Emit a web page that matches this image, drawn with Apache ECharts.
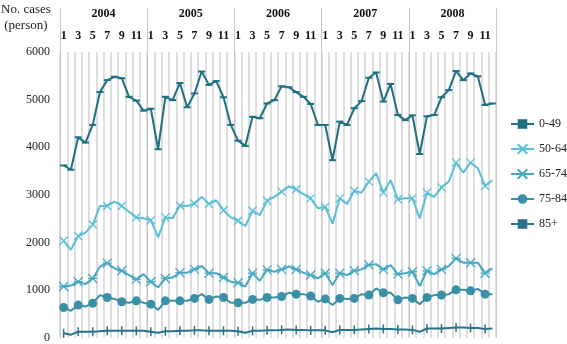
<!DOCTYPE html>
<html>
<head>
<meta charset="utf-8">
<script src="https://cdn.jsdelivr.net/npm/echarts@6/dist/echarts.min.js"></script>
<style>
  html, body { margin: 0; padding: 0; background: #fff; }
  #chart { width: 567px; height: 344px; }
</style>
</head>
<body>
<div id="chart"></div>
<script>
const years = ["2004", "2005", "2006", "2007", "2008"];
const monthLabels = ["1", "2", "3", "4", "5", "6", "7", "8", "9", "10", "11", "12"];
const yTicks = [0, 1000, 2000, 3000, 4000, 5000, 6000];

const age0to49 = [
  3620, 3530, 4210, 4100, 4470, 5160, 5410, 5480, 5450, 5060, 4980, 4770,
  4810, 3960, 5060, 4990, 5350, 4840, 5130, 5590, 5310, 5390, 5050, 4470,
  4140, 4030, 4640, 4610, 4920, 4990, 5280, 5260, 5160, 5060, 4910, 4470,
  4470, 3730, 4540, 4470, 4820, 4970, 5460, 5570, 4960, 5330, 4680, 4570,
  4670, 3860, 4650, 4680, 5050, 5200, 5600, 5410, 5550, 5490, 4890, 4920,
];
const age50to64 = [
  2040, 1850, 2140, 2210, 2380, 2770, 2770, 2860, 2770, 2650, 2530, 2510,
  2470, 2110, 2530, 2510, 2780, 2770, 2820, 2960, 2810, 2890, 2680, 2530,
  2460, 2350, 2670, 2580, 2880, 2960, 3070, 3180, 3120, 3020, 2930, 2720,
  2750, 2400, 2930, 2810, 3090, 3050, 3280, 3460, 3050, 3310, 2910, 2930,
  2930, 2510, 3050, 2960, 3160, 3280, 3680, 3470, 3680, 3560, 3190, 3310,
];
const age65to74 = [
  1080, 1100, 1180, 1130, 1250, 1500, 1570, 1460, 1410, 1320, 1230, 1340,
  1180, 1060, 1250, 1270, 1370, 1370, 1440, 1510, 1360, 1360, 1270, 1180,
  1160, 1080, 1360, 1200, 1430, 1390, 1440, 1500, 1440, 1370, 1320, 1250,
  1360, 1110, 1360, 1320, 1410, 1440, 1530, 1550, 1440, 1530, 1340, 1360,
  1390, 1090, 1410, 1340, 1440, 1510, 1670, 1580, 1580, 1580, 1360, 1460,
];
const age75to84 = [
  640, 570, 690, 660, 730, 900, 850, 820, 760, 740, 780, 740,
  710, 590, 780, 780, 780, 780, 830, 920, 810, 870, 850, 740,
  740, 740, 810, 800, 850, 850, 870, 950, 920, 920, 880, 760,
  820, 690, 830, 820, 830, 920, 900, 1040, 950, 950, 800, 850,
  830, 710, 850, 900, 900, 920, 1010, 1010, 990, 1030, 920, 920,
];
const age85plus = [
  100, 70, 130, 130, 130, 140, 150, 150, 150, 150, 150, 150,
  130, 110, 140, 140, 150, 150, 160, 160, 150, 150, 150, 150,
  140, 110, 150, 150, 160, 160, 170, 180, 170, 170, 160, 160,
  160, 120, 170, 170, 170, 180, 190, 200, 190, 190, 180, 180,
  170, 130, 200, 200, 200, 210, 220, 220, 210, 210, 190, 200,
];

const months = [];
years.forEach((y) => monthLabels.forEach((m) => months.push(y + "-" + m)));

const serif = "'Liberation Serif', 'DejaVu Serif', serif";

function makeSeries(name, data, color, symbol, symbolSize, hollow) {
  return {
    name,
    type: "line",
    xAxisIndex: 0,
    data,
    symbol,
    symbolSize,
    showSymbol: true,
    lineStyle: { color, width: 2 },
    itemStyle: hollow
      ? { color: color, borderColor: color, borderWidth: 1.3 }
      : { color: color, borderWidth: 0 },
    emphasis: { disabled: true },
  };
}

const chart = echarts.init(document.getElementById("chart"));
chart.setOption({
  animation: false,
  backgroundColor: "#fff",
  textStyle: { fontFamily: serif },
  grid: { left: 60, right: 71, top: 52, bottom: 6 },
  legend: {
    orient: "vertical",
    left: 510,
    top: 118,
    padding: 0,
    itemWidth: 23,
    itemHeight: 12,
    itemGap: 13,
    textStyle: { fontFamily: serif, fontSize: 12, color: "#222" },
    data: ["0-49", "50-64", "65-74", "75-84", "85+"],
  },
  graphic: [
    {
      type: "text",
      left: 1,
      top: 2,
      style: {
        text: "No. cases\n(person)",
        font: "13px " + serif,
        fill: "#222",
        textAlign: "center",
        lineHeight: 16,
      },
    },
  ],
  xAxis: [
    {
      type: "category",
      position: "top",
      data: months,
      boundaryGap: true,
      axisLine: { show: false },
      axisTick: { show: false },
      axisLabel: {
        interval: 1,
        margin: 10,
        fontFamily: serif,
        fontSize: 12,
        fontWeight: "bold",
        color: "#111",
        formatter: (v) => v.split("-")[1],
      },
      splitLine: { show: true, interval: 0, lineStyle: { color: "#dedede", width: 2 } },
    },
    {
      type: "category",
      position: "top",
      data: years,
      boundaryGap: true,
      axisLine: { show: false },
      axisTick: { show: true, interval: 0, length: 44, lineStyle: { color: "#c8c8c8", width: 1 } },
      axisLabel: {
        margin: 32,
        fontFamily: serif,
        fontSize: 12,
        fontWeight: "bold",
        color: "#111",
      },
      splitLine: { show: true, interval: 0, lineStyle: { color: "#c8c8c8", width: 1 } },
    },
  ],
  yAxis: {
    type: "value",
    min: yTicks[0],
    max: yTicks[yTicks.length - 1],
    interval: 1000,
    axisLine: { show: false },
    axisTick: { show: false },
    splitLine: { show: false },
    axisLabel: {
      margin: 10,
      fontFamily: serif,
      fontSize: 12,
      color: "#222",
      formatter: (v) => String(v),
    },
  },
  series: [
    makeSeries("0-49", age0to49, "#1e6f82", "rect", [7, 2], false),
    makeSeries("50-64", age50to64, "#5bbfd7", "path://M0,0L10,10M10,0L0,10", 8, true),
    makeSeries("65-74", age65to74, "#47a9c2", "path://M0,0L10,10M10,0L0,10M0,5L10,5", 9, true),
    makeSeries("75-84", age75to84, "#3a90a7", "circle", 9, false),
    makeSeries("85+", age85plus, "#2a7387", "rect", [1.5, 9], false),
  ],
});
</script>
</body>
</html>
